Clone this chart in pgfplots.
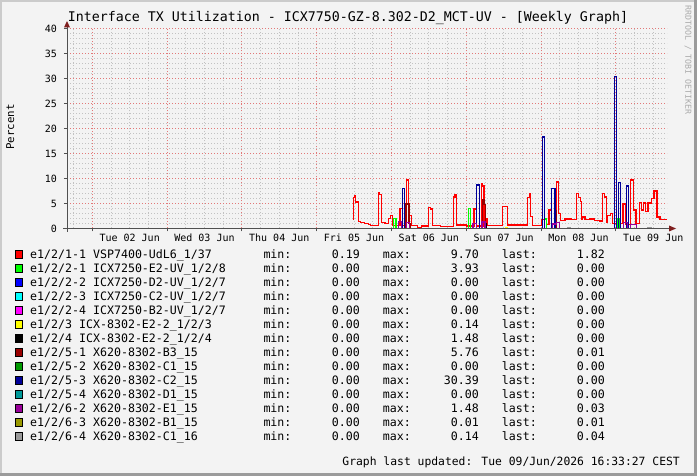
\documentclass[border=0pt]{standalone}
\usepackage{pgfplots}
\pgfplotsset{compat=1.18}
\usepackage{fontspec}
\setmainfont{DejaVu Sans Mono}
\definecolor{bgc}{HTML}{F3F3F3}
\definecolor{shadeA}{HTML}{CBCBCB}
\definecolor{shadeB}{HTML}{9B9B9B}
\definecolor{gridc}{HTML}{C2C2C2}
\definecolor{mgridc}{HTML}{E27878}
\definecolor{axisc}{HTML}{505050}
\definecolor{arrowc}{HTML}{7F1F1F}
\definecolor{wmc}{HTML}{ABABAB}
\definecolor{cA}{HTML}{FF0000}
\definecolor{cB}{HTML}{00FF00}
\definecolor{cC}{HTML}{0000FF}
\definecolor{cD}{HTML}{00FFFF}
\definecolor{cE}{HTML}{FF00FF}
\definecolor{cF}{HTML}{FFFF00}
\definecolor{cG}{HTML}{000000}
\definecolor{cH}{HTML}{990000}
\definecolor{cI}{HTML}{009900}
\definecolor{cJ}{HTML}{000099}
\definecolor{cK}{HTML}{009999}
\definecolor{cL}{HTML}{990099}
\definecolor{cM}{HTML}{999900}
\definecolor{cN}{HTML}{999999}
\newcommand{\fs}[1]{\fontsize{#1}{#1}\selectfont}
\newcommand{\legrow}[6]{%
  \filldraw[fill=#2, draw=black, line width=1bp] (15.5bp,#1bp) rectangle (22.8bp,#1bp+7.6bp);
  \node[anchor=base west, inner sep=0pt] at (30bp,#1bp) {#3};
  \node[anchor=base west, inner sep=0pt] at (263.3bp,#1bp) {min:};
  \node[anchor=base east, inner sep=0pt] at (360bp,#1bp) {#4};
  \node[anchor=base west, inner sep=0pt] at (382.7bp,#1bp) {max:};
  \node[anchor=base east, inner sep=0pt] at (479bp,#1bp) {#5};
  \node[anchor=base west, inner sep=0pt] at (501.7bp,#1bp) {last:};
  \node[anchor=base east, inner sep=0pt] at (605bp,#1bp) {#6};
}
\begin{document}
\begin{tikzpicture}
\fill[bgc] (0,0) rectangle (697bp,476bp);
\useasboundingbox (0,0) rectangle (697bp,476bp);
\fill[shadeA] (0,0) rectangle (2bp,476bp);
\fill[shadeA] (0,474bp) rectangle (697bp,476bp);
\fill[shadeB] (694bp,0) rectangle (697bp,476bp);
\fill[shadeB] (0,0) rectangle (697bp,3bp);
\begin{axis}[
  at={(67bp,247.5bp)}, anchor=south west,
  width=600bp, height=200bp, scale only axis,
  xmin=-0.338, xmax=7.684, ymin=0, ymax=40,
  axis x line=bottom, axis y line=left,
  axis line style={draw=none},
  /pgf/number format/assume math mode=true,
  xtick={0,1,...,7}, xticklabels={},
  minor xtick={-0.25,0.25,0.5,0.75,1.25,1.5,1.75,2.25,2.5,2.75,3.25,3.5,3.75,4.25,4.5,4.75,5.25,5.5,5.75,6.25,6.5,6.75,7.25,7.5},
  extra x ticks={0.5,1.5,2.5,3.5,4.5,5.5,6.5,7.5},
  extra x tick labels={Tue 02 Jun,Wed 03 Jun,Thu 04 Jun,Fri 05 Jun,Sat 06 Jun,Sun 07 Jun,Mon 08 Jun,Tue 09 Jun},
  extra x tick style={grid=none, major tick length=0pt},
  ytick={0,5,...,40}, yticklabels={0,5,10,15,20,25,30,35,40},
  minor ytick={1,2,3,4,6,7,8,9,11,12,13,14,16,17,18,19,21,22,23,24,26,27,28,29,31,32,33,34,36,37,38,39},
  grid=both,
  major grid style={draw=mgridc, line width=0.9bp, dash pattern=on 1bp off 2bp},
  minor grid style={draw=gridc, line width=0.8bp, dash pattern=on 1bp off 2bp},
  tick style={draw=axisc, line width=0.8bp},
  major tick length=3bp, minor tick length=0pt,
  tick align=outside,
  tick label style={font=\fs{10.04}},
  yticklabel style={anchor=east, inner sep=0pt},
  yticklabel shift=7bp,
  xticklabel style={anchor=north, inner sep=0pt},
  xticklabel shift=5.5bp,
  unbounded coords=jump,
  every axis plot/.append style={const plot, mark=none, line width=1.1bp},
]
% e1/2/1-1
\addplot[cA] coordinates {
(3.481,1.9) (3.490,6.2) (3.505,6.5) (3.525,5.3) (3.556,1.4) (3.590,1.2) (3.640,1.0) (3.690,0.8) (3.720,0.6)
(3.824,7.2) (3.846,6.8) (3.869,1.2) (3.913,1.0) (3.960,2.0) (3.990,2.6) (4.010,0.6) (4.114,4.0) (4.145,0.6)
(4.203,9.7) (4.232,2.6) (4.270,0.6) (4.350,0.2) (4.400,0.5) (4.492,4.2) (4.521,3.9) (4.551,0.6) (4.650,0.4)
(4.826,6.3) (4.849,6.7) (4.872,0.7) (5.000,0.5) (5.103,3.9) (5.139,0.5) (5.206,8.9) (5.222,8.5) (5.237,0.5)
(5.273,2.0) (5.290,0.6) (5.487,4.4) (5.548,0.7) (5.816,6.2) (5.842,7.0) (5.861,2.4) (5.888,0.6) (6.000,1.8)
(6.070,0.8) (6.106,3.7) (6.142,0.8) (6.209,9.3) (6.230,3.0) (6.260,1.6) (6.320,1.9) (6.400,1.8) (6.476,7.0)
(6.497,6.2) (6.529,5.4) (6.543,1.9) (6.560,2.3) (6.587,1.8) (6.650,1.9) (6.720,1.6) (6.780,1.5) (6.824,7.0)
(6.854,6.3) (6.877,1.2) (6.894,2.6) (6.930,3.0) (6.961,1.0) (7.095,4.9) (7.135,0.8) (7.198,9.7) (7.233,3.7)
(7.269,1.0) (7.322,5.2) (7.345,3.7) (7.370,5.1) (7.400,3.4) (7.430,5.1) (7.480,6.0) (7.510,7.5) (7.550,2.3)
(7.590,1.82) (7.684,1.82)
};
% e1/2/2-1
\addplot[cB] coordinates {
(4.025,0) (4.025,2.0) (4.061,0) (4.062,nan)
(5.027,0) (5.027,3.93) (5.059,0) (5.060,nan)
(6.048,0) (6.048,1.9) (6.070,0) (6.071,nan)
(7.019,0) (7.019,1.9) (7.045,0)
};
% e1/2/3
\addplot[cF] coordinates {(5.52,0) (5.52,0.14) (5.55,0)};
% e1/2/4
\addplot[cG] coordinates {
(4.18,0) (4.18,1.48) (4.20,0) (4.201,nan)
(5.25,0) (5.25,1.0) (5.27,0)
};
% e1/2/5-1
\addplot[cH] coordinates {
(4.194,0) (4.194,4.9) (4.234,1.0) (4.250,0) (4.251,nan)
(5.215,0) (5.215,5.76) (5.237,4.8) (5.260,0) (5.261,nan)
(6.186,0) (6.186,3.5) (6.209,0)
};
% e1/2/5-3
\addplot[cJ] coordinates {
(4.150,0) (4.150,8.0) (4.180,0) (4.181,nan)
(5.139,0) (5.139,8.7) (5.174,0) (5.175,nan)
(6.021,0) (6.021,18.3) (6.048,0) (6.049,nan)
(6.142,0) (6.142,8.0) (6.186,0) (6.187,nan)
(6.979,0) (6.979,30.39) (7.011,0) (7.012,nan)
(7.032,0) (7.032,9.2) (7.064,0) (7.065,nan)
(7.144,0) (7.144,8.5) (7.175,0)
};
% e1/2/6-2
\addplot[cL] coordinates {
(4.10,0) (4.10,1.48) (4.13,0) (4.131,nan)
(4.20,0) (4.20,1.2) (4.24,0) (4.241,nan)
(5.09,0) (5.09,1.0) (5.14,0) (5.141,nan)
(5.21,0) (5.21,1.3) (5.25,0) (5.251,nan)
(6.15,0) (6.15,0.9) (6.21,1.2) (6.25,0) (6.251,nan)
(7.10,0) (7.10,1.2) (7.15,0) (7.151,nan)
(7.20,0) (7.20,0.8) (7.28,0)
};
% e1/2/6-4
\addplot[cN] coordinates {
(6.35,0) (6.35,0.14) (6.39,0) (6.391,nan)
(7.43,0) (7.43,0.14) (7.48,0) (7.481,nan)
(7.66,0) (7.66,0.04) (7.684,0.04)
};
\end{axis}
% axes
\draw[axisc, line width=1bp] (63bp,247.5bp) -- (670bp,247.5bp);
\fill[arrowc] (669bp,244.5bp) -- (676bp,247.5bp) -- (669bp,250.5bp) -- cycle;
\draw[axisc, line width=1bp] (67bp,244bp) -- (67bp,449.5bp);
\fill[arrowc] (64bp,448.5bp) -- (67bp,455bp) -- (70bp,448.5bp) -- cycle;
% texts
\node[anchor=base, inner sep=0pt, font=\fs{13.34}] at (348bp,454bp) {Interface TX Utilization - ICX7750-GZ-8.302-D2\_MCT-UV - [Weekly Graph]};
\node[rotate=90, anchor=base, inner sep=0pt, font=\fs{10.8}] at (14bp,349bp) {Percent};
\node[rotate=-90, anchor=west, inner sep=0pt, font=\fs{8.3}, text=wmc] at (688bp,471bp) {RRDTOOL / TOBI OETIKER};
\begin{scope}[font=\fs{11.65}]
\legrow{217.8}{cA}{e1/2/1-1 VSP7400-UdL6\_1/37}{0.19}{9.70}{1.82}
\legrow{203.8}{cB}{e1/2/2-1 ICX7250-E2-UV\_1/2/8}{0.00}{3.93}{0.00}
\legrow{189.8}{cC}{e1/2/2-2 ICX7250-D2-UV\_1/2/7}{0.00}{0.00}{0.00}
\legrow{175.8}{cD}{e1/2/2-3 ICX7250-C2-UV\_1/2/7}{0.00}{0.00}{0.00}
\legrow{161.8}{cE}{e1/2/2-4 ICX7250-B2-UV\_1/2/7}{0.00}{0.00}{0.00}
\legrow{147.8}{cF}{e1/2/3 ICX-8302-E2-2\_1/2/3}{0.00}{0.14}{0.00}
\legrow{133.8}{cG}{e1/2/4 ICX-8302-E2-2\_1/2/4}{0.00}{1.48}{0.00}
\legrow{119.8}{cH}{e1/2/5-1 X620-8302-B3\_15}{0.00}{5.76}{0.01}
\legrow{105.8}{cI}{e1/2/5-2 X620-8302-C1\_15}{0.00}{0.00}{0.00}
\legrow{91.8}{cJ}{e1/2/5-3 X620-8302-C2\_15}{0.00}{30.39}{0.00}
\legrow{77.8}{cK}{e1/2/5-4 X620-8302-D1\_15}{0.00}{0.00}{0.00}
\legrow{63.8}{cL}{e1/2/6-2 X620-8302-E1\_15}{0.00}{1.48}{0.03}
\legrow{49.8}{cM}{e1/2/6-3 X620-8302-B1\_15}{0.00}{0.01}{0.01}
\legrow{35.8}{cN}{e1/2/6-4 X620-8302-C1\_16}{0.00}{0.14}{0.04}
\end{scope}
\node[anchor=base east, inner sep=0pt, font=\fs{11.4}] at (680bp,10.3bp) {Graph last updated: Tue 09/Jun/2026 16:33:27 CEST};
\end{tikzpicture}
\end{document}
